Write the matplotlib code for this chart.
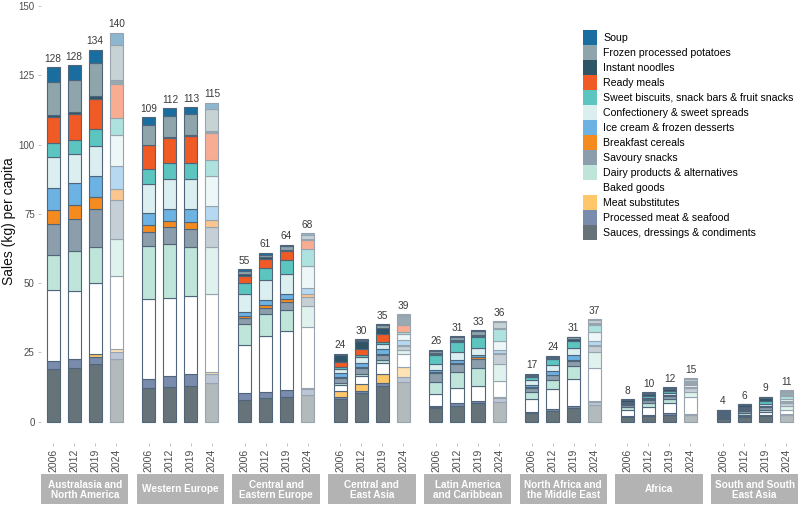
import matplotlib
matplotlib.use("Agg")
import matplotlib.pyplot as plt
from matplotlib.patches import Rectangle, Patch
from matplotlib.colors import to_rgb

plt.rcParams['font.family'] = ['Liberation Sans', 'DejaVu Sans']

# ---------------- data ----------------
regions = ["Australasia and\nNorth America", "Western Europe", "Central and\nEastern Europe",
           "Central and\nEast Asia", "Latin America\nand Caribbean", "North Africa and\nthe Middle East",
           "Africa", "South and South\nEast Asia"]
years = ["2006", "2012", "2019", "2024"]

# stacking order bottom -> top
categories = ["Sauces, dressings & condiments", "Processed meat & seafood", "Meat substitutes",
              "Baked goods", "Dairy products & alternatives", "Savoury snacks", "Breakfast cereals",
              "Ice cream & frozen desserts", "Confectionery & sweet spreads",
              "Sweet biscuits, snack bars & fruit snacks", "Ready meals", "Instant noodles",
              "Frozen processed potatoes", "Soup"]

# values per bar: 8 regions x 4 years (region-major)
sauces   = [19.2,19.5,20.8,22.6, 12.0,12.6,13.0,13.8, 7.8,8.7,9.0,9.6, 8.1,10.2,12.9,14.4,
            4.8,5.7,6.6,7.2, 3.2,4.0,4.8,6.0, 1.7,2.2,2.6,2.4, 1.0,1.7,2.2,2.4]
procmeat = [2.8,3.0,2.6,2.6, 3.4,4.0,4.2,3.4, 2.4,2.1,2.4,2.1, 0.9,0.9,1.2,1.6,
            0.6,0.9,0.9,1.5, 0.4,0.5,1.0,1.2, 0.3,0.4,0.4,0.4, 0.2,0.2,0.3,0.3]
meatsub  = [0.0,0.1,0.9,1.2, 0.0,0.0,0.0,0.8, 0.0,0.0,0.0,0.3, 2.2,2.5,3.1,3.8,
            0.1,0.1,0.1,0.2, 0.0,0.0,0.0,0.1, 0.0,0.0,0.0,0.0, 0.0,0.0,0.0,0.0]
baked    = [25.5,24.7,25.6,26.1, 28.8,28.2,28.1,28.0, 17.4,20.1,21.5,22.1, 1.9,2.8,3.9,4.8,
            4.6,5.4,5.4,5.8, 4.6,7.2,9.6,12.0, 2.2,2.8,3.6,6.2, 0.5,0.7,1.0,1.6]
dairy    = [12.6,14.3,13.2,13.4, 19.1,19.5,17.8,17.1, 7.5,7.8,7.4,7.8, 0.8,1.0,1.2,1.2,
            4.2,5.7,6.3,6.3, 2.6,3.2,4.8,6.0, 1.0,1.3,1.5,1.8, 0.3,0.4,0.6,1.2]
savoury  = [11.2,11.6,13.6,14.0, 5.2,5.8,6.4,7.0, 2.2,2.5,3.0,3.2, 2.0,1.9,1.8,1.7,
            3.2,3.1,3.5,3.5, 1.4,1.8,1.8,2.0, 0.8,1.0,1.2,1.2, 0.5,0.9,1.2,1.4]
cereals  = [5.0,5.0,4.4,4.2, 2.4,2.4,2.6,2.6, 0.8,0.8,1.0,0.9, 0.3,0.3,0.3,0.3,
            0.3,0.4,0.4,0.4, 0.2,0.2,0.3,0.3, 0.1,0.1,0.1,0.1, 0.1,0.1,0.1,0.1]
icecream = [8.1,7.8,7.7,8.2, 4.5,4.3,4.7,5.1, 1.5,1.8,1.7,2.1, 1.4,1.7,1.7,1.6,
            0.7,1.0,0.9,1.0, 1.0,1.4,1.6,1.7, 0.2,0.3,0.3,0.3, 0.2,0.2,0.3,0.3]
confect  = [11.2,10.6,10.6,11.1, 10.5,10.9,10.9,10.9, 6.6,7.5,7.2,8.1, 1.6,2.2,2.0,2.2,
            2.2,2.8,2.6,3.1, 1.5,2.2,2.8,3.0, 0.4,0.6,0.7,0.8, 0.3,0.4,0.6,0.9]
biscuits = [5.0,5.1,6.1,6.3, 5.4,5.7,5.7,5.9, 4.0,4.3,5.2,6.0, 0.6,0.6,0.8,0.8,
            3.5,3.6,3.8,4.3, 1.2,2.0,2.4,2.6, 0.4,0.5,0.6,0.5, 0.4,0.5,1.0,1.1]
ready    = [9.4,9.2,10.8,12.1, 8.5,9.1,9.7,9.7, 2.4,3.2,3.2,3.4, 1.7,2.0,2.6,2.6,
            0.3,0.4,0.4,0.4, 0.1,0.1,0.2,0.3, 0.1,0.1,0.1,0.2, 0.1,0.1,0.2,0.2]
noodles  = [0.8,1.0,1.1,1.4, 0.2,0.2,0.2,0.5, 0.6,0.5,0.5,0.4, 2.4,3.0,2.5,3.2,
            0.3,0.3,0.3,0.3, 0.3,0.3,0.4,0.4, 0.5,0.7,0.8,0.8, 0.4,0.8,1.0,1.1]
potatoes = [11.8,11.4,12.0,12.9, 7.2,7.7,7.8,7.9, 1.2,1.0,1.2,1.5, 0.3,0.4,0.8,0.3,
            0.8,1.1,1.6,2.0, 0.5,0.6,0.7,1.0, 0.3,0.4,0.4,0.6, 0.3,0.3,0.4,0.6]
soup     = [5.4,5.4,4.9,4.3, 2.6,2.8,2.4,2.4, 0.6,0.7,0.6,0.5, 0.3,0.3,0.3,0.3,
            0.3,0.3,0.3,0.3, 0.3,0.3,0.3,0.4, 0.2,0.2,0.2,0.3, 0.1,0.1,0.1,0.2]

total_labels = [128,128,134,140, 109,112,113,115, 55,61,64,68, 24,30,35,39,
                26,31,33,36, 17,24,31,37, 8,10,12,15, 4,6,9,11]

series = [sauces, procmeat, meatsub, baked, dairy, savoury, cereals, icecream,
          confect, biscuits, ready, noodles, potatoes, soup]
colors = ["#667479", "#7a8cae", "#fdc76a", "#ffffff", "#bfe4da", "#8c9eab", "#f58b1e",
          "#6cb2e3", "#dbeef0", "#5cc5bf", "#f05a24", "#2e5565", "#8ea5ab", "#1a6e9f"]


def lighten(c, a=0.5):
    r, g, b = to_rgb(c)
    return (1 - a + a * r, 1 - a + a * g, 1 - a + a * b)


EDGE = "#51657a"

# ---------------- layout ----------------
W, H = 800, 508
fig = plt.figure(figsize=(W / 100, H / 100), dpi=100)

y_lo, y_hi = -7.5, 152.2
panel_top_px, panel_bot_px = 0, 442.5
pitch, pw = 95.7, 87.4
x0 = 41.0
bar_w = 0.62

for r, region in enumerate(regions):
    left = x0 + r * pitch
    ax = fig.add_axes([left / W, 1 - panel_bot_px / H, pw / W, (panel_bot_px - panel_top_px) / H])
    ax.set_xlim(-0.58, 3.58)
    ax.set_ylim(y_lo, y_hi)
    for s in ax.spines.values():
        s.set_visible(False)
    ax.patch.set_alpha(0)
    for j, yr in enumerate(years):
        idx = r * 4 + j
        bottom = 0.0
        forecast = (yr == "2024")
        edge = lighten(EDGE, 0.6) if forecast else EDGE
        for vals, col in zip(series, colors):
            v = vals[idx]
            if v <= 0:
                continue
            fc = lighten(col, 0.5) if forecast else col
            ax.bar(j, v, bottom=bottom, width=bar_w, color=fc, edgecolor=edge,
                   linewidth=0.8, zorder=2)
            bottom += v
        ax.annotate(str(total_labels[idx]), (j, bottom), xytext=(0, 2.5),
                    textcoords="offset points", ha="center", va="bottom",
                    fontsize=7.3, color="#3a3a3a")
    ax.set_xticks(range(4))
    ax.set_xticklabels(years, rotation=90, fontsize=7.5, color="#4d4d4d")
    ax.tick_params(axis="x", length=2.5, width=0.5, color="#aaaaaa", pad=2)
    if r == 0:
        ax.set_yticks([0, 25, 50, 75, 100, 125, 150])
        ax.tick_params(axis="y", length=2.5, width=0.5, color="#aaaaaa", labelsize=7,
                       labelcolor="#4d4d4d", pad=2)
    else:
        ax.set_yticks([])
    # facet strip at the bottom
    fig.patches.append(Rectangle((left / W, 1 - 504 / H), pw / W, 30 / H,
                                 transform=fig.transFigure, facecolor="#b3b3b3",
                                 edgecolor="none"))
    fig.text((left + pw / 2) / W, 1 - 489.5 / H, region, ha="center", va="center",
             fontsize=7.2, color="white", fontweight="bold", linespacing=1.0)

fig.text(9 / W, 1 - 221 / H, "Sales (kg) per capita", rotation=90, ha="center",
         va="center", fontsize=10, color="#111111")

# ---------------- legend ----------------
handles = [Patch(facecolor=c, edgecolor="none", label=l)
           for l, c in zip(categories[::-1], colors[::-1])]
fs = 7.6
fs_px = fs * 100 / 72
hh = (15 / fs_px - 0.245) / 0.65
fig.legend(handles=handles, loc="upper left", bbox_to_anchor=(583 / W, 1 - 30 / H),
           frameon=False, fontsize=fs, handlelength=14 / fs_px, handleheight=hh,
           labelspacing=0, handletextpad=6 / fs_px, borderpad=0, borderaxespad=0)

fig.savefig("out.png", dpi=100)
